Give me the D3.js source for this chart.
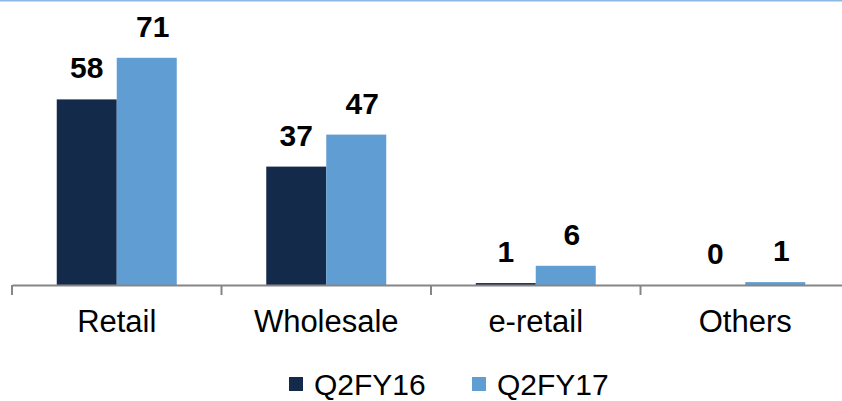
<!DOCTYPE html>
<html>
<head>
<meta charset="utf-8">
<script src="https://cdn.jsdelivr.net/npm/d3@7"></script>
<style>
  body { margin: 0; background: #fff; }
  svg { display: block; font-family: "Liberation Sans", Arial, sans-serif; }
</style>
</head>
<body>
<div id="chart"></div>
<script>
// chart data
var categories = ["Retail", "Wholesale", "e-retail", "Others"];
var seriesNames = ["Q2FY16", "Q2FY17"];
var q2fy16 = [58, 37, 0.6, 0];
var q2fy17 = [71, 47, 6, 0.9];
var colors = ["#142A4A", "#5F9DD2"];

function init() {
    var width = 842, height = 401;
    var axisY = 285;

    var svg = d3.select("#chart").append("svg")
        .attr("width", width)
        .attr("height", height);

    // thin light blue rule along the top edge
    svg.append("line")
        .attr("x1", 0).attr("x2", width)
        .attr("y1", 0.75).attr("y2", 0.75)
        .attr("stroke", "#8DB9E6")
        .attr("stroke-width", 1.5);

    var data = categories.map(function(c, i) {
        return { cat: c, values: [q2fy16[i], q2fy17[i]] };
    });

    var x0 = d3.scaleBand().domain(categories).range([12, 850]).paddingInner(0);
    var x1 = d3.scaleBand().domain(seriesNames).range([0, x0.bandwidth()])
        .paddingInner(0).paddingOuter(0.746);
    var y = d3.scaleLinear().domain([0, 80]).range([axisY, 29]);

    var groups = svg.selectAll("g.cat")
        .data(data)
        .enter().append("g")
        .attr("class", "cat")
        .attr("transform", function(d) { return "translate(" + x0(d.cat) + ",0)"; });

    var bars = groups.selectAll("g.bar")
        .data(function(d) { return d.values.map(function(v, i) { return { s: seriesNames[i], v: v, i: i }; }); })
        .enter().append("g")
        .attr("class", "bar");

    bars.append("rect")
        .attr("x", function(d) { return x1(d.s); })
        .attr("y", function(d) { return y(d.v); })
        .attr("width", x1.bandwidth())
        .attr("height", function(d) { return axisY - y(d.v); })
        .attr("fill", function(d) { return colors[d.i]; });

    bars.append("text")
        .attr("x", function(d) { return x1(d.s) + x1.bandwidth() / 2 + (d.i === 1 ? 6 : 0); })
        .attr("y", function(d) { return y(d.v) - 21; })
        .attr("text-anchor", "middle")
        .attr("font-size", "30px")
        .attr("font-weight", "bold")
        .attr("fill", "#000")
        .text(function(d) { return d3.format(".0f")(d.v); });

    // x axis with ticks between categories
    var axis = d3.axisBottom(x0).tickSize(0).tickPadding(25);
    var gx = svg.append("g")
        .attr("transform", "translate(0," + axisY + ")")
        .call(axis);
    gx.select(".domain").attr("stroke", "#868686").attr("stroke-width", 2);
    gx.selectAll(".tick text")
        .attr("font-size", "31px")
        .attr("font-family", "'Liberation Sans', Arial, sans-serif")
        .attr("fill", "#000");

    var bounds = categories.map(function(c) { return x0(c); });
    gx.selectAll("line.sep")
        .data(bounds)
        .enter().append("line")
        .attr("class", "sep")
        .attr("x1", function(d) { return d; })
        .attr("x2", function(d) { return d; })
        .attr("y1", 0).attr("y2", 10)
        .attr("stroke", "#868686")
        .attr("stroke-width", 2);

    // legend
    var legendX = [289, 472];
    var legend = svg.selectAll("g.legend")
        .data(seriesNames)
        .enter().append("g")
        .attr("class", "legend")
        .attr("transform", function(d, i) { return "translate(" + legendX[i] + ",377)"; });

    legend.append("rect")
        .attr("width", 14).attr("height", 14)
        .attr("fill", function(d, i) { return colors[i]; });

    legend.append("text")
        .attr("x", 25)
        .attr("y", 17.5)
        .attr("font-size", "30px")
        .attr("fill", "#000")
        .text(function(d) { return d; });
}
window.onload = init;
</script>
</body>
</html>
